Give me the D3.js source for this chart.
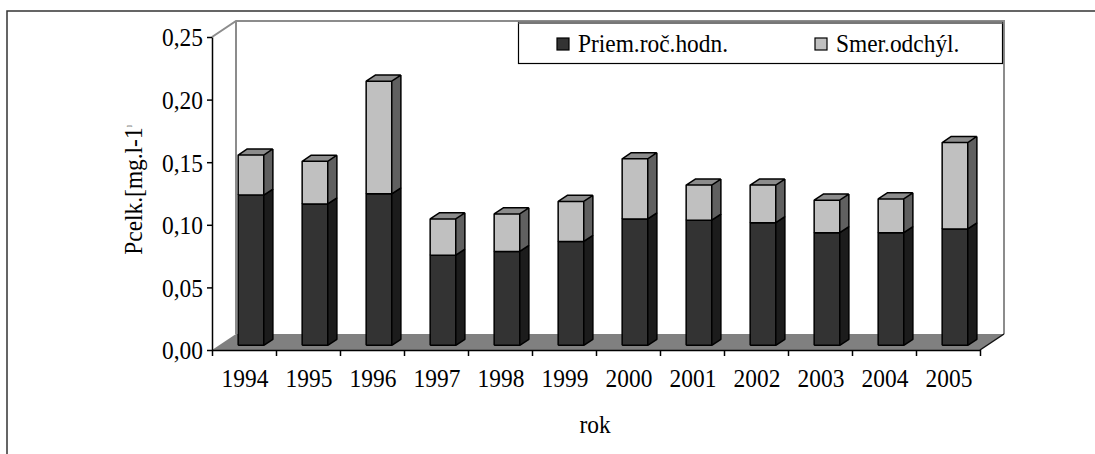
<!DOCTYPE html>
<html>
<head>
<meta charset="utf-8">
<script src="https://cdn.jsdelivr.net/npm/d3@7"></script>
<style>
  body { margin: 0; background: #fff; }
  text { font-family: "Liberation Serif", "Times New Roman", serif; }
</style>
</head>
<body>
<svg id="chart" width="1095" height="454"></svg>
<script>
// values
const years = ["1994", "1995", "1996", "1997", "1998", "1999", "2000", "2001", "2002", "2003", "2004", "2005"];
const priem = [0.120, 0.113, 0.121, 0.072, 0.075, 0.083, 0.101, 0.100, 0.098, 0.090, 0.090, 0.093];
const smer = [0.032, 0.034, 0.090, 0.029, 0.030, 0.032, 0.048, 0.028, 0.030, 0.026, 0.027, 0.069];
const yTicks = [0, 0.05, 0.10, 0.15, 0.20, 0.25];
const seriesNames = ["Priem.roč.hodn.", "Smer.odchýl."];

const svg = d3.select("#chart");
const plotL = 212, plotR = 980, plotB = 350, plotT = 37;
const depth = { dx: 24, dy: -16 };      // full floor depth
const barZ0 = 0.29, barZ1 = 0.67;        // bar sits inside the depth
const fs = "26px", squeeze = 0.9;        // the text in the picture is a bit condensed

const x = d3.scaleBand().domain(years).range([plotL, plotR]).paddingInner(0.6).paddingOuter(0.3);
const xEdge = d3.scaleLinear().domain([0, years.length]).range([plotL, plotR]);
const y = d3.scaleLinear().domain([0, 0.25]).range([plotB, plotT]);

// outer frame
svg.append("path")
  .attr("d", "M7,454 L7,11 L1095,11")
  .attr("fill", "none").attr("stroke", "#333").attr("stroke-width", 1.5);

// walls
const wallGray = "#8c8c8c";
const bx = depth.dx, by = depth.dy;
svg.append("polygon")
  .attr("points", [[plotL, plotB], [plotL + bx, plotB + by], [plotL + bx, plotT + by], [plotL, plotT]].join(" "))
  .attr("fill", "#fff");
svg.append("path")
  .attr("d", `M${plotL},${plotT} L${plotL + bx},${plotT + by} L${plotR + bx},${plotT + by} L${plotR + bx},${plotB + by}
              M${plotL + bx},${plotT + by} L${plotL + bx},${plotB + by}`)
  .attr("fill", "none").attr("stroke", wallGray).attr("stroke-width", 2);

// floor
svg.append("polygon")
  .attr("points", [[plotL, plotB], [plotR, plotB], [plotR + bx, plotB + by], [plotL + bx, plotB + by]].join(" "))
  .attr("fill", "#808080");
svg.append("path")
  .attr("d", `M${plotR},${plotB} L${plotR + bx},${plotB + by}`)
  .attr("stroke", "#111").attr("stroke-width", 1.5);

// bars
const fx = barZ0 * bx, fy = barZ0 * by;
const sx = (barZ1 - barZ0) * bx, sy = (barZ1 - barZ0) * by;
const colors = [
  { front: "#333333", side: "#1c1c1c", top: "#2a2a2a" },
  { front: "#c0c0c0", side: "#606060", top: "#8c8c8c" }
];

function box(g, x0, w, v0, v1, c, withTop) {
  const X = x0 + fx, Y0 = y(v0) + fy, Y1 = y(v1) + fy;
  g.append("polygon")
    .attr("points", [[X + w, Y0], [X + w + sx, Y0 + sy], [X + w + sx, Y1 + sy], [X + w, Y1]].join(" "))
    .attr("fill", c.side);
  if (withTop) {
    g.append("polygon")
      .attr("points", [[X, Y1], [X + w, Y1], [X + w + sx, Y1 + sy], [X + sx, Y1 + sy]].join(" "))
      .attr("fill", c.top);
  }
  g.append("rect")
    .attr("x", X).attr("y", Y1).attr("width", w).attr("height", Y0 - Y1)
    .attr("fill", c.front);
  // outline
  let d = `M${X},${Y0} L${X + w},${Y0} L${X + w + sx},${Y0 + sy} L${X + w + sx},${Y1 + sy}
           M${X},${Y0} L${X},${Y1} L${X + w},${Y1} L${X + w},${Y0}
           M${X + w},${Y1} L${X + w + sx},${Y1 + sy}`;
  if (withTop) d += ` M${X},${Y1} L${X + sx},${Y1 + sy} L${X + w + sx},${Y1 + sy}`;
  g.append("path").attr("d", d)
    .attr("fill", "none").attr("stroke", "#000").attr("stroke-width", 1.5).attr("stroke-linejoin", "round");
}

const bars = svg.append("g").attr("class", "bars");
years.forEach((yr, i) => {
  const g = bars.append("g");
  const x0 = x(yr), w = x.bandwidth();
  box(g, x0, w, 0, priem[i], colors[0], false);
  box(g, x0, w, priem[i], priem[i] + smer[i], colors[1], true);
});

// y axis
const yAxis = d3.axisLeft(y).tickValues(yTicks).tickSize(5).tickSizeOuter(0)
  .tickFormat(d => d3.format(".2f")(d).replace(".", ","));
const gy = svg.append("g").attr("transform", `translate(${plotL},0)`).call(yAxis);
gy.select(".domain").attr("stroke", "#000").attr("stroke-width", 1.5);
gy.selectAll(".tick line").attr("stroke", "#000").attr("stroke-width", 1.5);
gy.selectAll(".tick text").attr("x", -9 / squeeze).attr("dy", "0.34em")
  .attr("transform", `scale(${squeeze},1)`)
  .style("font-family", "Liberation Serif").style("font-size", fs).attr("fill", "#000");

// x axis (ticks between categories)
const xAxis = d3.axisBottom(xEdge).tickValues(d3.range(years.length + 1)).tickSize(6).tickSizeOuter(0).tickFormat("");
const gx = svg.append("g").attr("transform", `translate(0,${plotB})`).call(xAxis);
gx.select(".domain").attr("stroke", "#000").attr("stroke-width", 1.5);
gx.selectAll(".tick line").attr("stroke", "#000").attr("stroke-width", 1.5);

svg.append("g").selectAll("text").data(years).join("text")
  .attr("transform", d => `translate(${x(d) + x.bandwidth() / 2 + 1},387) scale(${squeeze},1)`)
  .attr("text-anchor", "middle")
  .style("font-size", fs)
  .text(d => d);

// axis titles
svg.append("text")
  .attr("transform", `translate(${(plotL + plotR) / 2 - 1},433) scale(${squeeze},1)`)
  .attr("text-anchor", "middle").style("font-size", fs)
  .text("rok");

const yt = svg.append("text")
  .attr("transform", `translate(142,190) rotate(-90) scale(${squeeze},1)`)
  .attr("text-anchor", "middle").style("font-size", fs);
yt.append("tspan").text("Pcelk.[mg.l-1");
yt.append("tspan").style("font-size", "7px").attr("dy", "-11").text("]");

// legend
const lg = svg.append("g");
lg.append("rect").attr("x", 518.5).attr("y", 22.5).attr("width", 484).attr("height", 41)
  .attr("fill", "#fff").attr("stroke", "#000").attr("stroke-width", 1.2);
lg.append("line").attr("x1", 518.5).attr("x2", 1002.5).attr("y1", 23).attr("y2", 23)
  .attr("stroke", "#777").attr("stroke-width", 2);
const legX = [557, 815];
seriesNames.forEach((name, i) => {
  lg.append("rect").attr("x", legX[i]).attr("y", 38).attr("width", 12).attr("height", 12)
    .attr("fill", colors[i].front).attr("stroke", "#000").attr("stroke-width", 1.2);
  lg.append("text").attr("transform", `translate(${legX[i] + 21},52) scale(${squeeze},1)`)
    .style("font-size", fs).text(name);
});
</script>
</body>
</html>
